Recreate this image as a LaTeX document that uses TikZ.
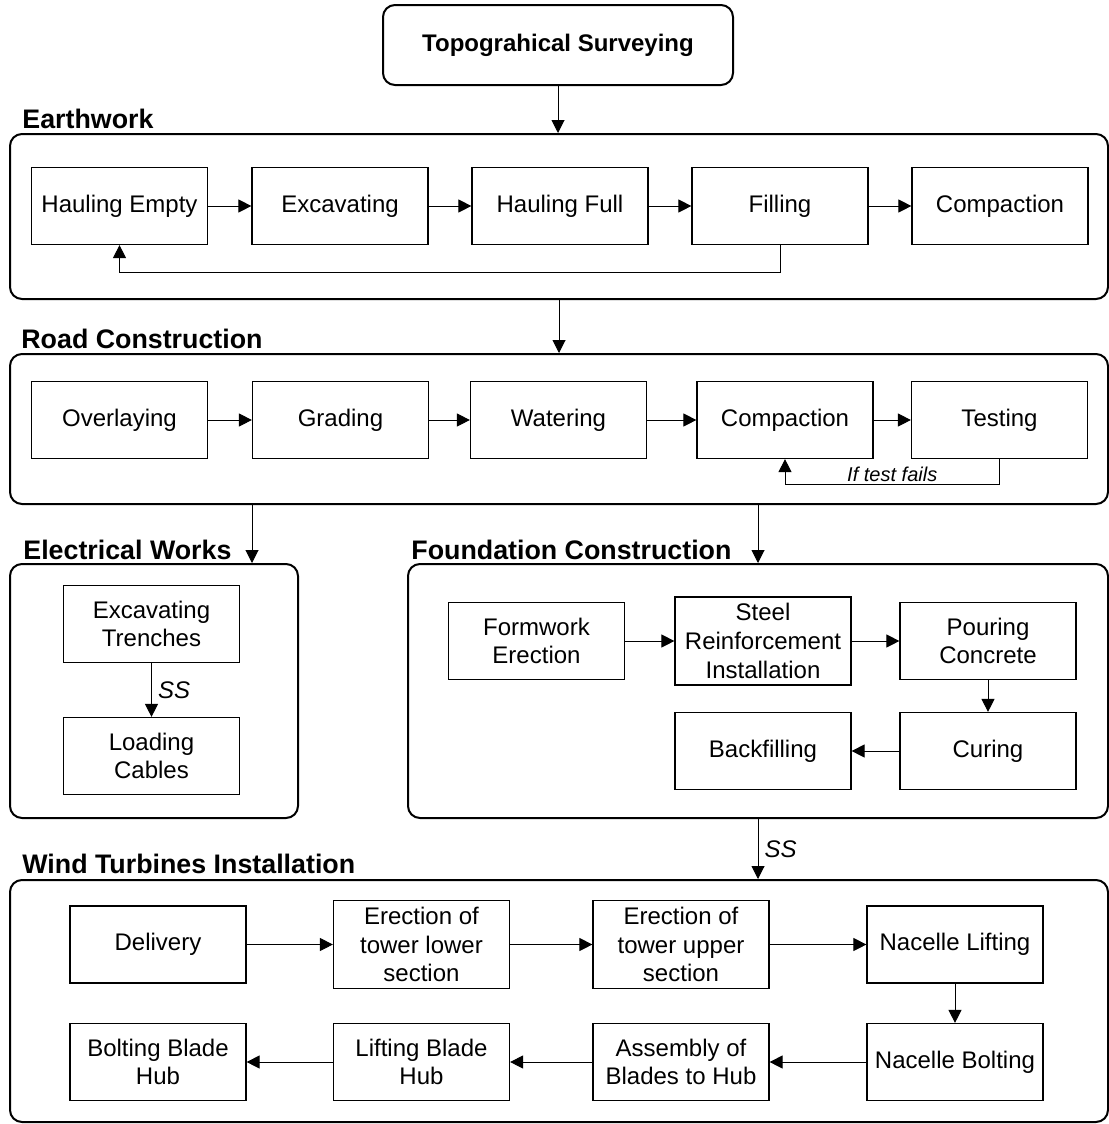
\documentclass[tikz,border=0pt]{standalone}
\usepackage{fontspec}
\setmainfont{Liberation Sans}
\usepackage{tikz}
\usetikzlibrary{
  positioning,
  arrows.meta
}

\tikzset{
  task/.style={draw, line width=0.6pt, minimum width=88pt, minimum height=38.5pt,
    inner sep=1pt, align=center, font=\fontsize{12}{14.4}\selectfont},
  tall/.style={task, minimum height=44pt},
  group/.style={draw, line width=1pt, rounded corners=6pt, inner sep=0pt, anchor=north west},
  title/.style={anchor=base west, inner sep=0pt, font=\fontsize{13.4}{16}\selectfont\bfseries},
  note/.style={inner sep=3pt, font=\fontsize{12}{14}\selectfont\itshape},
  failnote/.style={inner sep=0pt, font=\fontsize{10}{12}\selectfont\itshape},
  arr/.style={-{Triangle[length=6.5pt,width=6.5pt]}, line width=0.5pt}
}

\begin{document}
\begin{tikzpicture}[x=0.5pt, y=-0.5pt]
  \useasboundingbox (0,0) rectangle (1108,1124);

  \node[group, anchor=center, minimum width=175pt, minimum height=40pt,
    font=\fontsize{12}{14}\selectfont\bfseries] (topo) at (558,45) {Topograhical Surveying};

  % earthwork
  \node[group, minimum width=549pt, minimum height=82.5pt] (earth) at (9,133) {};
  \node[title] (earthlbl) at (22,128) {Earthwork};
  \node[task] (he) at (119.5,206) {Hauling Empty};
  \node[task] (ex) at (340,206) {Excavating};
  \node[task] (hf) at (560,206) {Hauling Full};
  \node[task] (fi) at (780,206) {Filling};
  \node[task] (eco) at (1000,206) {Compaction};

  \draw[arr] (he) -- (ex);
  \draw[arr] (ex) -- (hf);
  \draw[arr] (hf) -- (fi);
  \draw[arr] (fi) -- (eco);
  \draw[arr] (fi.south) -- ++(0,27) -| (he.south);

  % road construction
  \node[group, minimum width=549pt, minimum height=75pt] (road) at (9,353) {};
  \node[title] (roadlbl) at (21,348) {Road Construction};
  \node[task] (ov) at (119.5,420) {Overlaying};
  \node[task] (gr) at (340.5,420) {Grading};
  \node[task] (wa) at (558.5,420) {Watering};
  \node[task] (rco) at (785,420) {Compaction};
  \node[task] (te) at (999.5,420) {Testing};

  \draw[arr] (ov) -- (gr);
  \draw[arr] (gr) -- (wa);
  \draw[arr] (wa) -- (rco);
  \draw[arr] (rco) -- (te);
  \draw[arr] (te.south) -- ++(0,25) -| node[pos=0.25, above=1pt, failnote] (iffail) {If test fails} (rco.south);

  % electrical works
  \node[group, minimum width=144pt, minimum height=127pt] (elec) at (9,563) {};
  \node[title] (eleclbl) at (23,559) {Electrical Works};
  \node[task] (tr) at (151.5,624) {Excavating\\Trenches};
  \node[task] (lc) at (151.5,756) {Loading\\Cables};

  \draw[arr] (tr) -- node[right, note] (ss1) {SS} (lc);

  % foundation construction
  \node[group, minimum width=350pt, minimum height=127pt] (found) at (407,563) {};
  \node[title] (foundlbl) at (411,559) {Foundation Construction};
  \node[task] (fw) at (536.5,641) {Formwork\\Erection};
  \node[tall] (st) at (763,641) {Steel\\Reinforcement\\Installation};
  \node[task] (po) at (988,641) {Pouring\\Concrete};
  \node[task] (cu) at (988,751) {Curing};
  \node[task] (bf) at (763,751) {Backfilling};

  \draw[arr] (fw) -- (st);
  \draw[arr] (st) -- (po);
  \draw[arr] (po) -- (cu);
  \draw[arr] (cu) -- (bf);

  % links between the groups
  \coordinate (elecin) at (252,563);
  \draw[arr] (topo.south) -- (topo.south |- earth.north);
  \draw[arr] (earth.south) -- (road.north);
  \draw[arr] (road.south -| elecin) -- (elecin);
  \draw[arr] (road.south -| found.north) -- (found.north);

  % wind turbines installation
  \node[group, minimum width=549pt, minimum height=121pt] (wind) at (9,879) {};
  \node[title] (windlbl) at (22,873) {Wind Turbines Installation};
  \draw[arr] (found.south) -- node[right, note] (ss2) {SS} (found.south |- wind.north);

  \node[task] (de) at (158,944.5) {Delivery};
  \node[tall] (lo) at (421.5,944.5) {Erection of\\tower lower\\section};
  \node[tall] (up) at (681,944.5) {Erection of\\tower upper\\section};
  \node[task] (nl) at (955,944.5) {Nacelle Lifting};
  \node[task] (nb) at (955,1062) {Nacelle Bolting};
  \node[task] (as) at (681,1062) {Assembly of\\Blades to Hub};
  \node[task] (lb) at (421.5,1062) {Lifting Blade\\Hub};
  \node[task] (bb) at (158,1062) {Bolting Blade\\Hub};

  \draw[arr] (de) -- (lo);
  \draw[arr] (lo) -- (up);
  \draw[arr] (up) -- (nl);
  \draw[arr] (nl) -- (nb);
  \draw[arr] (nb) -- (as);
  \draw[arr] (as) -- (lb);
  \draw[arr] (lb) -- (bb);
\end{tikzpicture}
\end{document}
